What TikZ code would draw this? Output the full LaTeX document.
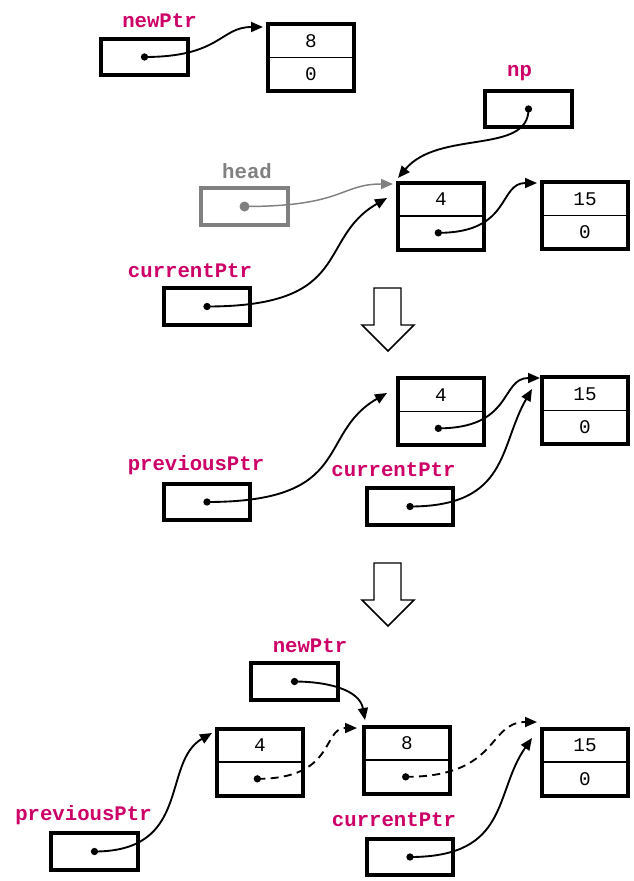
\documentclass[tikz,border=0pt]{standalone}
\usepackage{fontspec}
\setmonofont{Liberation Mono}
\usetikzlibrary{positioning,arrows.meta}
\definecolor{ptrname}{RGB}{204,0,102}
\definecolor{oldgray}{RGB}{128,128,128}
\tikzset{
  ptrbox/.style={draw, line width=3pt, minimum width=65pt, minimum height=27.5pt, inner sep=0pt, outer sep=0pt},
  cell/.style={draw, line width=1.1pt, minimum width=64.5pt, minimum height=25pt, inner sep=0pt, outer sep=0pt,
    font=\ttfamily\fontsize{14.5}{14.5}\selectfont},
  frame/.style={line width=3pt},
  ptrlabel/.style={text=ptrname, font=\ttfamily\bfseries\fontsize{15.5}{15.5}\selectfont},
  dot/.style={circle, fill, inner sep=0pt, minimum size=5.5pt},
  link/.style={line width=1.4pt, -{Triangle[length=9pt,width=7.5pt]}},
  hollow/.style={draw, line width=1.1pt},
}
\begin{document}
\begin{tikzpicture}[x=0.75pt,y=0.75pt]
    \useasboundingbox (0,0) rectangle (633,-881);

    % first state
    \node[ptrlabel] (lnewA) at (159.5,-21) {newPtr};
    \node[ptrbox] (newA) at (144.5,-57) {};
    \node[dot] (dnewA) at (newA.center) {};
    \node[cell] (v8a) at (311,-41) {8};
    \node[cell, below=0pt of v8a] (p8a) {0};
    \draw[frame] (v8a.north west) rectangle (p8a.south east);
    \coordinate (t8a) at (263,-27);
    \draw[link] (dnewA.center) to[out=0,in=180,out looseness=1.6,in looseness=0.9] (t8a);

    \node[ptrlabel] (lnp) at (519.5,-73) {np};
    \node[ptrbox] (np) at (528.5,-109) {};
    \node[dot] (dnp) at (np.center) {};

    \node[ptrlabel, text=oldgray] (lhead) at (247,-171) {head};
    \node[ptrbox, draw=oldgray] (head) at (244.5,-206.5) {};
    \node[dot, fill=oldgray, minimum size=7.5pt] (dhead) at (head.center) {};

    \node[cell] (v4a) at (441,-199.5) {4};
    \node[cell, below=0pt of v4a] (p4a) {};
    \draw[frame] (v4a.north west) rectangle (p4a.south east);
    \node[dot] (d4a) at ([xshift=-2pt]p4a.center) {};
    \node[cell] (v15a) at (585,-199) {15};
    \node[cell, below=0pt of v15a] (p15a) {0};
    \draw[frame] (v15a.north west) rectangle (p15a.south east);

    \node[ptrlabel] (lcurA) at (190,-271) {currentPtr};
    \node[ptrbox] (curA) at (207,-306.5) {};
    \node[dot] (dcurA) at (curA.center) {};

    \coordinate (tnp) at (398,-178);
    \coordinate (thead) at (393,-184);
    \coordinate (tcurA) at (387,-198);
    \coordinate (t15a) at (537,-183);
    \draw[link] (dnp.center) to[out=-90,in=50,out looseness=0.8,in looseness=1.1] (tnp);
    \draw[link, oldgray, line width=1.1pt] (dhead.center) to[out=0,in=180,out looseness=1.7,in looseness=0.9] (thead);
    \draw[link] (dcurA.center) to[out=0,in=210,out looseness=1.8] (tcurA);
    \draw[link] (d4a.center) to[out=0,in=180,out looseness=1.7,in looseness=0.9] (t15a);

    % step arrows
    \foreach \dy in {0,275}
        \draw[hollow, shift={(0,-\dy)}] (374,-288) -- (401,-288) -- (401,-325) -- (414,-325)
            -- (388,-351) -- (362,-325) -- (374,-325) -- cycle;

    % second state
    \node[cell] (v4b) at (441,-395) {4};
    \node[cell, below=0pt of v4b] (p4b) {};
    \draw[frame] (v4b.north west) rectangle (p4b.south east);
    \node[dot] (d4b) at ([xshift=-2pt]p4b.center) {};
    \node[cell] (v15b) at (585,-394) {15};
    \node[cell, below=0pt of v15b] (p15b) {0};
    \draw[frame] (v15b.north west) rectangle (p15b.south east);

    \node[ptrlabel] (lprevB) at (196,-465) {previousPtr};
    \node[ptrbox] (prevB) at (207,-502) {};
    \node[dot] (dprevB) at (prevB.center) {};
    \node[ptrlabel] (lcurB) at (393.5,-470) {currentPtr};
    \node[ptrbox] (curB) at (410,-506.5) {};
    \node[dot] (dcurB) at (curB.center) {};

    \coordinate (tprevB) at (387,-393);
    \coordinate (t15b) at (540,-378);
    \coordinate (tcurB) at (532,-389);
    \draw[link] (dprevB.center) to[out=0,in=210,out looseness=1.8] (tprevB);
    \draw[link] (d4b.center) to[out=0,in=180,out looseness=1.7,in looseness=0.9] (t15b);
    \draw[link] (dcurB.center) to[out=0,in=240,out looseness=1.5] (tcurB);

    % third state
    \node[ptrlabel] (lnewC) at (310,-646) {newPtr};
    \node[ptrbox] (newC) at (294.5,-681.5) {};
    \node[dot] (dnewC) at (newC.center) {};

    \node[cell] (v4c) at (260,-745.5) {4};
    \node[cell, below=0pt of v4c] (p4c) {};
    \draw[frame] (v4c.north west) rectangle (p4c.south east);
    \node[dot] (d4c) at ([xshift=-2pt]p4c.center) {};
    \node[cell] (v8c) at (407,-743.5) {8};
    \node[cell, below=0pt of v8c] (p8c) {};
    \draw[frame] (v8c.north west) rectangle (p8c.south east);
    \node[dot] (d8c) at ([xshift=-1pt]p8c.center) {};
    \node[cell] (v15c) at (585,-745.5) {15};
    \node[cell, below=0pt of v15c] (p15c) {0};
    \draw[frame] (v15c.north west) rectangle (p15c.south east);

    \node[ptrlabel] (lprevC) at (83.5,-815) {previousPtr};
    \node[ptrbox] (prevC) at (94.5,-851.5) {};
    \node[dot] (dprevC) at (prevC.center) {};
    \node[ptrlabel] (lcurC) at (394,-820) {currentPtr};
    \node[ptrbox] (curC) at (410,-857) {};
    \node[dot] (dcurC) at (curC.center) {};

    \coordinate (tnewC) at (365,-720);
    \coordinate (t8c) at (357,-728);
    \coordinate (t15c) at (537,-722);
    \coordinate (tprevC) at (212,-733);
    \coordinate (tcurC) at (532,-738);
    \draw[link] (dnewC.center) to[out=0,in=100] (tnewC);
    \draw[link, dash pattern=on 6pt off 4pt] (d4c.center) to[out=0,in=180,out looseness=1.8,in looseness=0.8] (t8c);
    \draw[link, dash pattern=on 6pt off 4pt] (d8c.center) to[out=0,in=180,out looseness=1.7,in looseness=0.9] (t15c);
    \draw[link] (dprevC.center) to[out=0,in=210,out looseness=1.5,in looseness=0.9] (tprevC);
    \draw[link] (dcurC.center) to[out=0,in=235,out looseness=1.5] (tcurC);
\end{tikzpicture}
\end{document}
